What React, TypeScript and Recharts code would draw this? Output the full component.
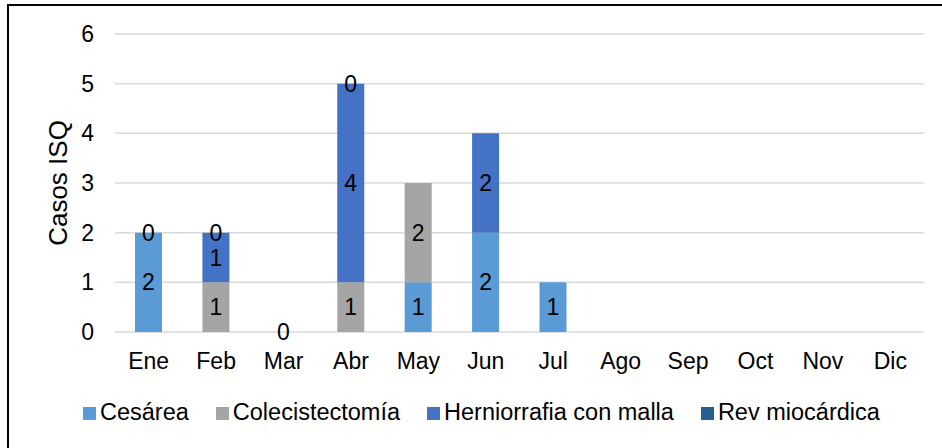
import React from 'react';
import { BarChart, Bar, XAxis, YAxis, CartesianGrid, LabelList } from 'recharts';

const months = ['Ene', 'Feb', 'Mar', 'Abr', 'May', 'Jun', 'Jul', 'Ago', 'Sep', 'Oct', 'Nov', 'Dic'];
const cesarea = [2, null, null, null, 1, 2, 1, null, null, null, null, null];
const colecistectomia = [null, 1, null, 1, 2, null, null, null, null, null, null, null];
const herniorrafia = [null, 1, null, 4, null, 2, null, null, null, null, null, null];
const revMiocardica = [0, 0, 0, 0, null, null, null, null, null, null, null, null];
const yTicks = [0, 1, 2, 3, 4, 5, 6];

const FONT = '"Liberation Sans", Arial, sans-serif';

const SERIES = [
    { key: 'cesarea', name: 'Cesárea', color: '#5B9BD5' },
    { key: 'colecistectomia', name: 'Colecistectomía', color: '#A5A5A5' },
    { key: 'herniorrafia', name: 'Herniorrafia con malla', color: '#4472C4' },
    { key: 'rev', name: 'Rev miocárdica', color: '#255E91' },
];

const data = months.map((m, i) => ({
    month: m,
    cesarea: cesarea[i],
    colecistectomia: colecistectomia[i],
    herniorrafia: herniorrafia[i],
    rev: revMiocardica[i],
}));

// centered value label, skip empty cells
const SegmentLabel = (props: any) => {
    const { x, y, width, height, value } = props;
    if (value === null || value === undefined) return null;
    return (
        <text
            x={x + width / 2}
            y={y + height / 2}
            dy="0.355em"
            textAnchor="middle"
            fill="#000"
            fontSize={23}
            fontFamily={FONT}
        >
            {value}
        </text>
    );
};

const YLabel = () => (
    <text
        x={67}
        y={183}
        transform="rotate(-90, 67, 183)"
        textAnchor="middle"
        fill="#000"
        fontSize={26}
        fontFamily={FONT}
    >
        Casos ISQ
    </text>
);

export default function App() {
    return (
        <div style={{ position: 'absolute', left: 0, top: 0, width: 942, height: 448, overflow: 'hidden', background: '#fff', fontFamily: FONT }}>
            <div style={{
                position: 'absolute', left: 7, top: 4, width: 935, height: 444, boxSizing: 'border-box',
                borderTop: '2px solid #000', borderLeft: '2px solid #000'
            }} />
            <div style={{ position: 'absolute', left: 0, top: 0 }}>
                <BarChart
                    width={942}
                    height={448}
                    data={data}
                    margin={{ top: 34, right: 18, left: 0, bottom: 66 }}
                    barSize={27}
                >
                    <CartesianGrid vertical={false} stroke="#D9D9D9" strokeWidth={1.5} />
                    <XAxis
                        dataKey="month"
                        height={50}
                        axisLine={false}
                        tickLine={false}
                        tickSize={0}
                        tickMargin={21}
                        interval={0}
                        tick={{ fill: '#000', fontSize: 23, fontFamily: FONT }}
                    />
                    <YAxis
                        width={115}
                        domain={[0, 6]}
                        ticks={yTicks}
                        axisLine={false}
                        tickLine={false}
                        tickSize={0}
                        tickMargin={21}
                        tick={{ fill: '#000', fontSize: 23, fontFamily: FONT }}
                        label={{ content: <YLabel /> }}
                    />
                    {SERIES.map((s) => (
                        <Bar
                            key={s.key}
                            dataKey={s.key}
                            name={s.name}
                            stackId="a"
                            fill={s.color}
                            minPointSize={s.key === 'rev' ? 0.01 : 0}
                            isAnimationActive={false}
                        >
                            <LabelList dataKey={s.key} content={<SegmentLabel />} />
                        </Bar>
                    ))}
                </BarChart>
            </div>
            <div style={{
                position: 'absolute', left: 83, top: 399, height: 26, display: 'flex', alignItems: 'center',
                fontSize: 23.5, color: '#000', whiteSpace: 'nowrap'
            }}>
                {SERIES.map((s, i) => (
                    <div key={s.key} style={{ display: 'flex', alignItems: 'center', marginRight: i < SERIES.length - 1 ? 27 : 0 }}>
                        <span style={{ width: 13, height: 13, background: s.color, display: 'inline-block', marginRight: 4, marginTop: 3 }} />
                        <span style={{ lineHeight: '26px' }}>{s.name}</span>
                    </div>
                ))}
            </div>
        </div>
    );
}
